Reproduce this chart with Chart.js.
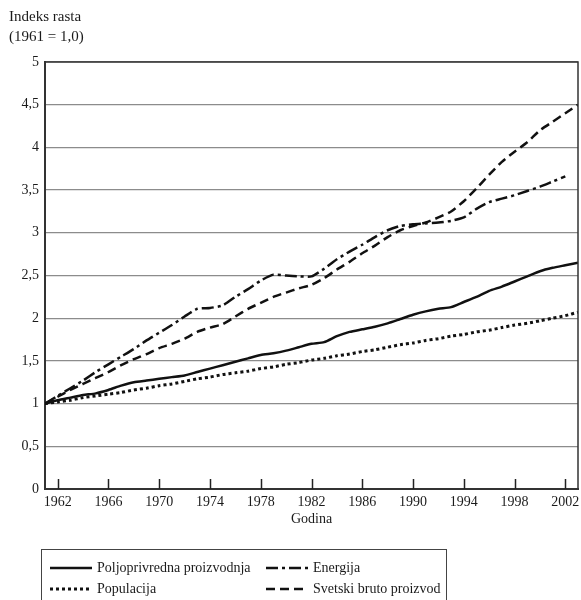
<!DOCTYPE html>
<html>
<head>
<meta charset="utf-8">
<title>Indeks rasta</title>
<script src="https://cdn.jsdelivr.net/npm/chart.js@4/dist/chart.umd.min.js"></script>
<style>
  html, body { margin: 0; padding: 0; background: #fff; }
  canvas { display: block; }
</style>
</head>
<body>
<canvas id="growthChart" width="581" height="600"></canvas>
<script>
// Growth index, 1961 = 1.0
const years = [
    1961, 1962, 1963, 1964, 1965, 1966, 1967, 1968, 1969, 1970,
    1971, 1972, 1973, 1974, 1975, 1976, 1977, 1978, 1979, 1980,
    1981, 1982, 1983, 1984, 1985, 1986, 1987, 1988, 1989, 1990,
    1991, 1992, 1993, 1994, 1995, 1996, 1997, 1998, 1999, 2000,
    2001, 2002, 2003
];
const tickYears = [1962, 1966, 1970, 1974, 1978, 1982, 1986, 1990, 1994, 1998, 2002];

const poljoprivreda = [
    1.00, 1.04, 1.07, 1.10, 1.12, 1.16, 1.21, 1.25, 1.27, 1.29,
    1.31, 1.33, 1.37, 1.41, 1.45, 1.49, 1.53, 1.57, 1.59, 1.62,
    1.66, 1.70, 1.72, 1.79, 1.84, 1.87, 1.90, 1.94, 1.99, 2.04,
    2.08, 2.11, 2.13, 2.19, 2.25, 2.32, 2.37, 2.43, 2.49, 2.55,
    2.59, 2.62, 2.65
];
const energija = [
    1.00, 1.09, 1.18, 1.27, 1.37, 1.46, 1.55, 1.64, 1.74, 1.83,
    1.92, 2.02, 2.11, 2.12, 2.15, 2.25, 2.34, 2.44, 2.51, 2.50,
    2.49, 2.49, 2.58, 2.69, 2.78, 2.86, 2.95, 3.03, 3.08, 3.10,
    3.11, 3.12, 3.14, 3.18, 3.28, 3.36, 3.40, 3.44, 3.49, 3.54,
    3.60, 3.66, null
];
const populacija = [
    1.00, 1.02, 1.04, 1.07, 1.09, 1.11, 1.13, 1.16, 1.18, 1.21,
    1.23, 1.26, 1.29, 1.31, 1.34, 1.36, 1.38, 1.41, 1.43, 1.46,
    1.48, 1.51, 1.53, 1.56, 1.58, 1.61, 1.63, 1.66, 1.69, 1.71,
    1.74, 1.76, 1.79, 1.81, 1.84, 1.86, 1.89, 1.92, 1.94, 1.97,
    2.00, 2.03, 2.07
];
const svetskiBP = [
    1.00, 1.08, 1.16, 1.23, 1.30, 1.37, 1.45, 1.52, 1.58, 1.65,
    1.70, 1.76, 1.84, 1.89, 1.93, 2.02, 2.11, 2.18, 2.25, 2.30,
    2.35, 2.39, 2.47, 2.57, 2.66, 2.76, 2.85, 2.95, 3.03, 3.08,
    3.12, 3.18, 3.25, 3.37, 3.52, 3.68, 3.83, 3.95, 4.06, 4.20,
    4.30, 4.40, 4.50
];

const FONT = "'Liberation Serif', 'DejaVu Serif', serif";
const INK = '#1a1a1a';

function toPoints(values) {
    return years.map((yr, i) => ({ x: yr, y: values[i] }));
}

function commaNumber(v) {
    return String(v).replace('.', ',');
}

// header text, frame, inward x ticks and the boxed legend
const decorPlugin = {
    id: 'decor',
    afterDraw(chart) {
        const ctx = chart.ctx;
        const area = chart.chartArea;
        const xScale = chart.scales.x;

        ctx.save();

        // frame top + right
        ctx.strokeStyle = '#333';
        ctx.lineWidth = 1.5;
        ctx.beginPath();
        ctx.moveTo(area.left, area.top);
        ctx.lineTo(area.right, area.top);
        ctx.lineTo(area.right, area.bottom);
        ctx.stroke();

        // short ticks pointing into the plot
        ctx.lineWidth = 1.5;
        ctx.strokeStyle = '#222';
        tickYears.forEach(yr => {
            const px = Math.round(xScale.getPixelForValue(yr)) + 0.5;
            ctx.beginPath();
            ctx.moveTo(px, area.bottom);
            ctx.lineTo(px, area.bottom - 10);
            ctx.stroke();
        });

        // y axis header
        ctx.fillStyle = INK;
        ctx.font = '15px ' + FONT;
        ctx.textAlign = 'left';
        ctx.textBaseline = 'middle';
        ctx.fillText('Indeks rasta', 9, 17);
        ctx.fillText('(1961 = 1,0)', 9, 37);

        // legend
        ctx.font = '14px ' + FONT;
        ctx.strokeStyle = '#444';
        ctx.lineWidth = 1;
        ctx.strokeRect(41.5, 549.5, 405, 70);

        const slots = [
            { x: 50, y: 568 },
            { x: 266, y: 568 },
            { x: 50, y: 589 },
            { x: 266, y: 589 }
        ];
        chart.data.datasets.forEach((ds, i) => {
            const s = slots[i];
            ctx.strokeStyle = ds.borderColor;
            ctx.lineWidth = ds.borderWidth;
            ctx.setLineDash(ds.borderDash || []);
            ctx.lineCap = 'butt';
            ctx.beginPath();
            ctx.moveTo(s.x, s.y);
            ctx.lineTo(s.x + 42, s.y);
            ctx.stroke();
            ctx.setLineDash([]);
            ctx.fillStyle = INK;
            ctx.fillText(ds.label, s.x + 47, s.y);
        });

        ctx.restore();
    }
};

new Chart(document.getElementById('growthChart'), {
    type: 'line',
    data: {
        datasets: [
            {
                label: 'Poljoprivredna proizvodnja',
                data: toPoints(poljoprivreda),
                borderColor: '#111',
                borderWidth: 2.5,
                borderDash: []
            },
            {
                label: 'Energija',
                data: toPoints(energija),
                borderColor: '#111',
                borderWidth: 2.5,
                borderDash: [12, 4, 3, 4]
            },
            {
                label: 'Populacija',
                data: toPoints(populacija),
                borderColor: '#111',
                borderWidth: 3,
                borderDash: [3, 3]
            },
            {
                label: 'Svetski bruto proizvod',
                data: toPoints(svetskiBP),
                borderColor: '#111',
                borderWidth: 2.5,
                borderDash: [9, 5]
            }
        ]
    },
    options: {
        responsive: false,
        animation: false,
        devicePixelRatio: 1,
        layout: { padding: { top: 62, right: 3, left: 0, bottom: 70 } },
        elements: {
            point: { radius: 0 },
            line: { tension: 0.2, borderCapStyle: 'butt', fill: false }
        },
        plugins: {
            legend: { display: false },
            tooltip: { enabled: false },
            title: { display: false }
        },
        scales: {
            x: {
                type: 'linear',
                min: 1961,
                max: 2003,
                afterBuildTicks: scale => {
                    scale.ticks = tickYears.map(v => ({ value: v }));
                },
                afterFit: scale => {
                    scale.height = 41;
                    scale.paddingLeft = 0;
                    scale.paddingRight = 0;
                },
                grid: { display: false, drawTicks: false },
                border: { display: true, color: '#333', width: 2 },
                ticks: {
                    padding: 5,
                    color: INK,
                    font: { family: FONT, size: 14 },
                    maxRotation: 0,
                    autoSkip: false,
                    callback: v => String(v)
                },
                title: {
                    display: true,
                    text: 'Godina',
                    color: INK,
                    font: { family: FONT, size: 14 },
                    padding: { top: 0, bottom: 2 }
                }
            },
            y: {
                min: 0,
                max: 5,
                afterFit: scale => { scale.width = 45; },
                grid: {
                    drawTicks: false,
                    color: ctx => (ctx.tick.value === 0 ? 'rgba(0,0,0,0)' : '#8c8c8c'),
                    lineWidth: 1.3
                },
                border: { display: true, color: '#333', width: 2 },
                ticks: {
                    stepSize: 0.5,
                    padding: 6,
                    color: INK,
                    font: { family: FONT, size: 14 },
                    callback: v => commaNumber(v)
                }
            }
        }
    },
    plugins: [decorPlugin]
});
</script>
</body>
</html>
